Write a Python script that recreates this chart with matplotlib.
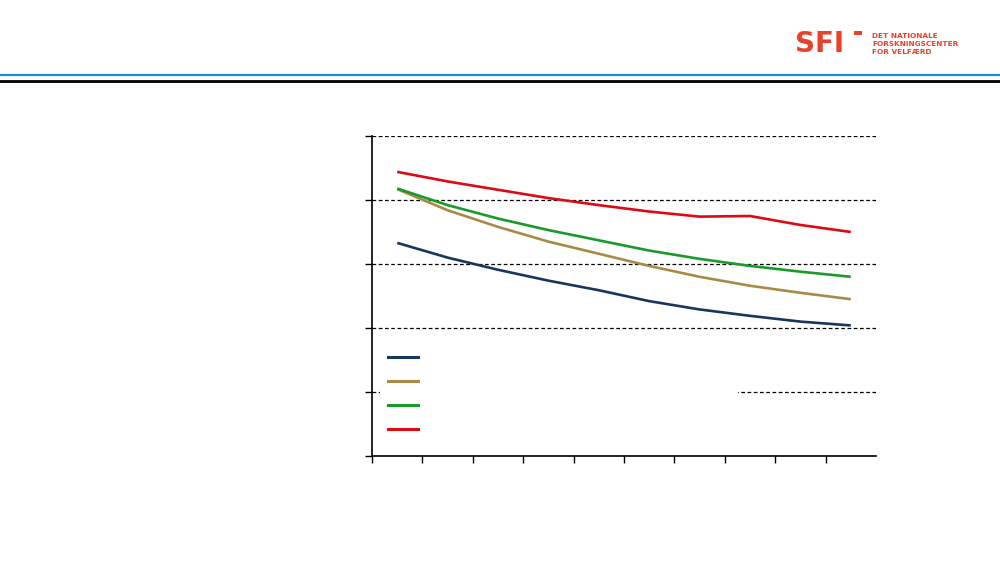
import matplotlib
matplotlib.use('Agg')
import matplotlib.pyplot as plt
from matplotlib.patches import Rectangle
from matplotlib.lines import Line2D

# categories (no labels shown in the original)
periods = list(range(10))

# series values (gridline step = 1)
navy_vals = [3.33, 3.10, 2.91, 2.74, 2.59, 2.42, 2.29, 2.19, 2.10, 2.04]
tan_vals = [4.17, 3.84, 3.58, 3.35, 3.16, 2.97, 2.80, 2.66, 2.55, 2.45]
green_vals = [4.18, 3.92, 3.71, 3.53, 3.37, 3.21, 3.08, 2.97, 2.88, 2.80]
red_vals = [4.44, 4.29, 4.16, 4.03, 3.92, 3.82, 3.74, 3.75, 3.61, 3.50]

series = [navy_vals, tan_vals, green_vals, red_vals]
colors = ['#17375e', '#a88a45', '#1a9a2a', '#dd0a14']

y_ticks = [0, 1, 2, 3, 4, 5]

fig = plt.figure(figsize=(10, 5.63), dpi=100)
fig.patch.set_facecolor('white')

# header rules
fig.add_artist(Line2D([0, 1], [1 - 74.5 / 563, 1 - 74.5 / 563], color='#1a8ad4', lw=1.6))
fig.add_artist(Line2D([0, 1], [1 - 80.5 / 563, 1 - 80.5 / 563], color='black', lw=2.0))

# logo
logo_red = '#e8412c'
fig.text(0.795, 1 - 52 / 563, 'SFI', family='DejaVu Sans', weight='heavy',
         fontsize=20, color=logo_red, va='baseline', ha='left')
fig.add_artist(Rectangle((0.854, 1 - 35 / 563), 0.008, 4 / 563,
                         transform=fig.transFigure, color=logo_red, lw=0))
for i, line in enumerate(['DET NATIONALE', 'FORSKNINGSCENTER', 'FOR VELFÆRD']):
    fig.text(0.872, 1 - (38.5 + i * 7.7) / 563, line, family='DejaVu Sans',
             weight='bold', fontsize=5.3, color=logo_red, va='baseline', ha='left')

# chart area
ax = fig.add_axes([0.372, 1 - 456 / 563, 0.504, 320 / 563])
for vals, c in zip(series, colors):
    ax.plot(periods, vals, color=c, lw=1.9, solid_capstyle='butt')

ax.set_xlim(-0.5, 9.5)
ax.set_ylim(0, 5)
ax.set_xticks([p - 0.5 for p in periods])
ax.set_xticklabels([])
ax.set_yticks(y_ticks)
ax.set_yticklabels([])
ax.tick_params(direction='out', length=5, width=1, color='black')
ax.spines['top'].set_visible(False)
ax.spines['right'].set_visible(False)
for s in ['left', 'bottom']:
    ax.spines[s].set_linewidth(1.2)
ax.yaxis.grid(True, color='black', lw=0.9, linestyle=(0, (3, 2)))
ax.set_axisbelow(True)

# legend without text, white box as in the original
handles = [Line2D([], [], color=c, lw=2.2) for c in colors]
leg = ax.legend(handles, [' '] * 4, loc='upper left',
                bbox_to_anchor=(0.016, 0.344, 0.71, 0.01), mode='expand',
                frameon=True, fancybox=False, fontsize=10,
                handlelength=2.15, handletextpad=0.3, labelspacing=0.72,
                borderpad=0.6, borderaxespad=0)
leg.get_frame().set_facecolor('white')
leg.get_frame().set_edgecolor('none')
leg.get_frame().set_alpha(1)

fig.savefig('out.png', dpi=100)
